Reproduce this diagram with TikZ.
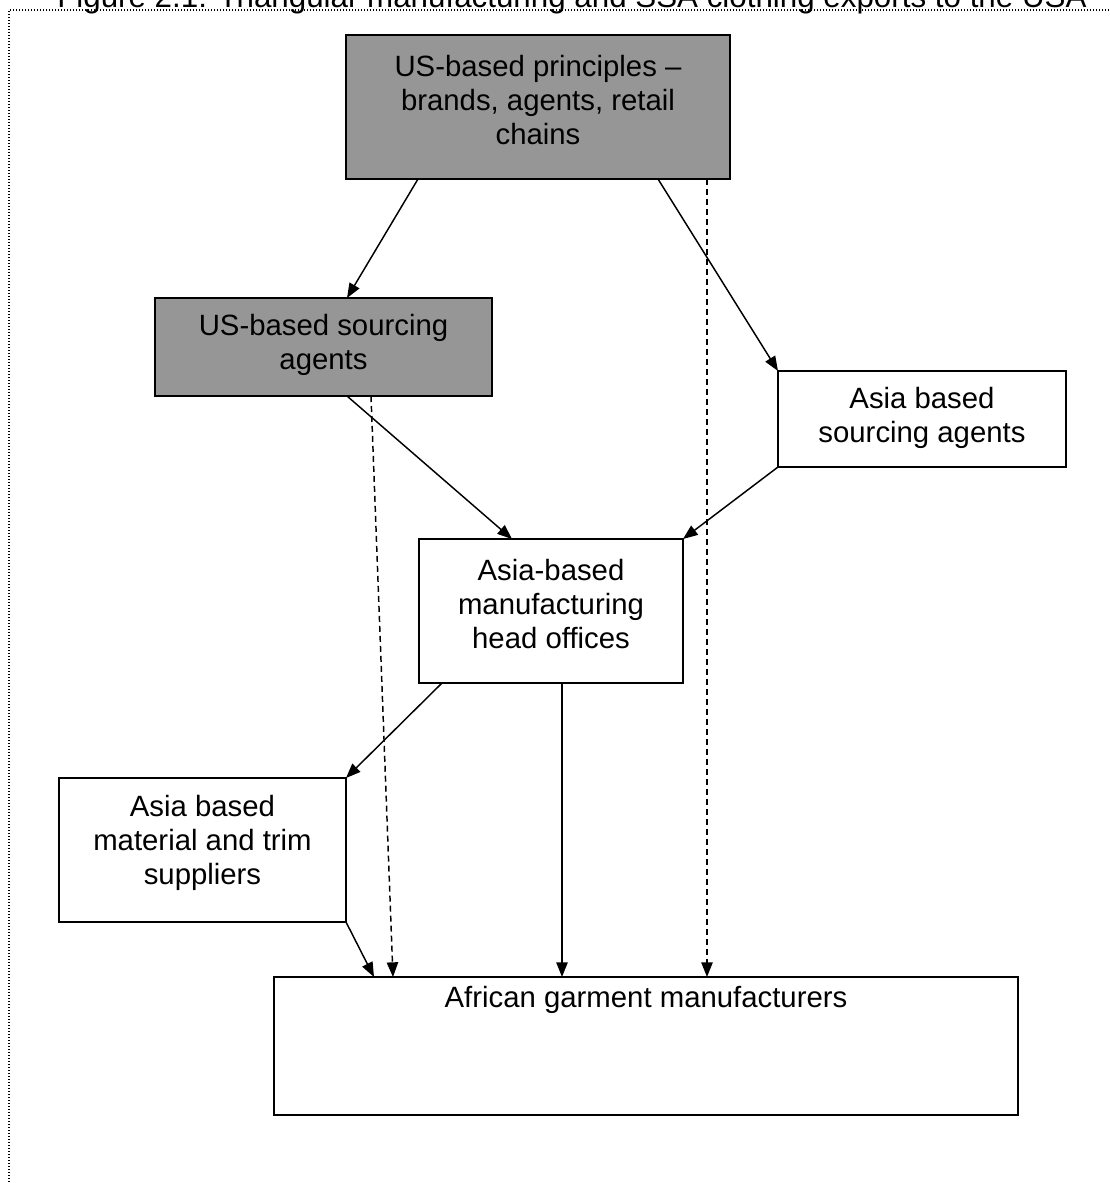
\documentclass[tikz,border=0pt]{standalone}
\usepackage{fontspec}
\setmainfont{Liberation Sans}
\usetikzlibrary{arrows.meta,calc}
\definecolor{boxgray}{RGB}{150,150,150}
\begin{document}
\begin{tikzpicture}[x=0.75pt,y=-0.75pt,
  box/.style={draw=black, line width=1.2pt, inner sep=0pt, outer sep=0pt, anchor=north west},
  graybox/.style={box, fill=boxgray},
  boxtext/.style={font=\fontsize{22}{25.5}\selectfont, align=center, inner sep=0pt},
  arr/.style={line width=1.1pt, -{Triangle[length=11pt,width=8.5pt]}},
  dsh/.style={arr, dash pattern=on 4.5pt off 3pt},
  frame/.style={line width=0.9pt, dash pattern=on 0.9pt off 1.35pt}]
\useasboundingbox (0,0) rectangle (1110,1183);
\clip (0,0) rectangle (1110,1183);
% frame and title
\draw[frame] (1115,10) -- (9,10) -- (9,1190);
\node (title) [anchor=base west, font=\fontsize{23.5}{28}\selectfont, inner sep=0pt] at (57,7)
  {Figure 2.1: Triangular manufacturing and SSA clothing exports to the USA};
% boxes
\node (b1) [graybox, minimum width=288pt, minimum height=108pt] at (346,35) {};
\node (b2) [graybox, minimum width=252.75pt, minimum height=73.5pt] at (155,298) {};
\node (b3) [box, minimum width=216pt, minimum height=72pt] at (778,371) {};
\node (b4) [box, minimum width=198pt, minimum height=108pt] at (419,539) {};
\node (b5) [box, minimum width=215.25pt, minimum height=108pt] at (59,778) {};
\node (b6) [box, minimum width=558pt, minimum height=103.5pt] at (274,977) {};
% texts
\node (t1) [boxtext] at (538,100) {US-based principles –\\brands, agents, retail\\chains};
\node (t2) [boxtext] at (323.5,345) {US-based sourcing\\agents};
\node (t3) [boxtext] at (922,418) {Asia based\\sourcing agents};
\node (t4) [boxtext] at (551,604) {Asia-based\\manufacturing\\head offices};
\node (t5) [boxtext] at (202.5,843) {Asia based\\material and trim\\suppliers};
\node (t6) [boxtext] at (646,1000) {African garment manufacturers};
% connectors
\draw[arr] ($(b1.south west)+(72,0)$) -- ($(b2.north west)+(192,0)$);
\draw[arr] ($(b1.south west)+(312,0)$) -- (b3.north west);
\draw[dsh] ($(b1.south west)+(361,0)$) -- ($(b6.north west)+(433,0)$);
\draw[arr] ($(b2.south west)+(192,0)$) -- ($(b4.north west)+(93,0)$);
\draw[dsh] ($(b2.south west)+(216,0)$) -- ($(b6.north west)+(119,0)$);
\draw[arr] (b3.south west) -- (b4.north east);
\draw[arr] ($(b4.south west)+(23,0)$) -- (b5.north east);
\draw[arr] ($(b4.south west)+(143,0)$) -- ($(b6.north west)+(288,0)$);
\draw[arr] (b5.south east) -- ($(b6.north west)+(100,0)$);
\end{tikzpicture}
\end{document}
